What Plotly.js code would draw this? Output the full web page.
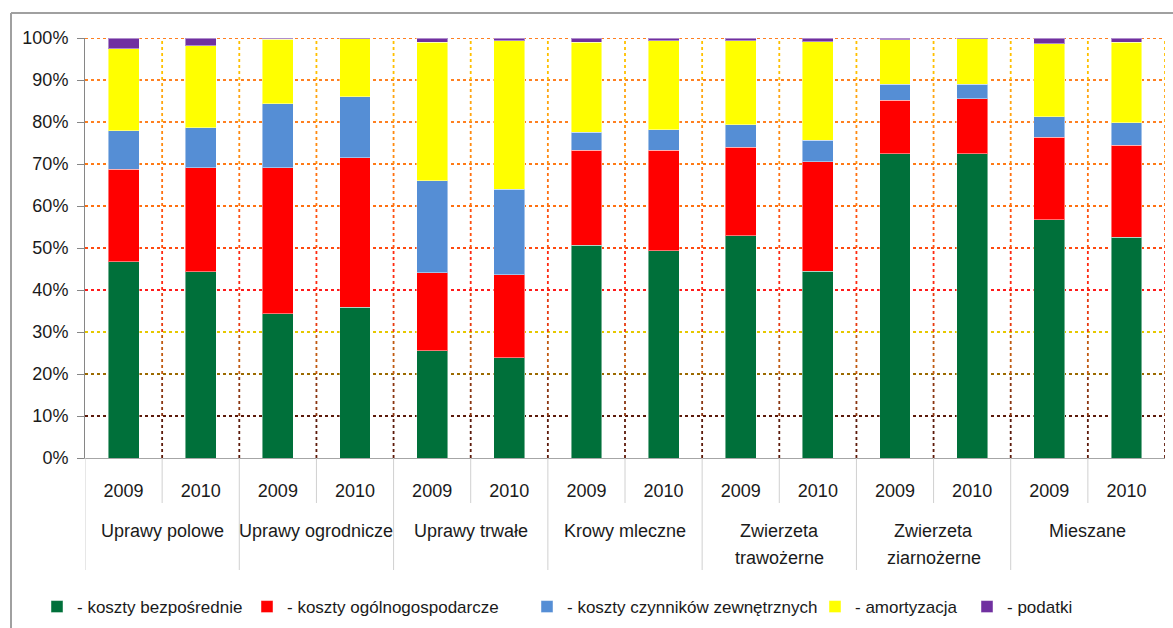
<!DOCTYPE html>
<html>
<head>
<meta charset="utf-8">
<script src="https://cdn.plot.ly/plotly-3.0.1.min.js"></script>
<style>html,body{margin:0;padding:0;background:#fff;}#chart{width:1173px;height:628px;}</style>
</head>
<body>
<div id="chart"></div>
<script>
// ---- data ----
const groups = ["Uprawy polowe", "Uprawy ogrodnicze", "Uprawy trwałe", "Krowy mleczne", "Zwierzeta<br>trawożerne", "Zwierzeta<br>ziarnożerne", "Mieszane"];
const years = ["2009", "2010"];
const seriesNames = ["- koszty bezpośrednie", "- koszty ogólnogospodarcze", "- koszty czynników zewnętrznych", "- amortyzacja", "- podatki"];
const bezposrednie   = [46.7, 44.4, 34.4, 35.9, 25.5, 23.9, 50.7, 49.3, 52.9, 44.5, 72.5, 72.5, 56.7, 52.6];
const ogolnogosp     = [22.1, 24.7, 34.7, 35.6, 18.6, 19.7, 22.6, 24.0, 21.1, 26.0, 12.7, 13.0, 19.7, 21.9];
const czynnikow      = [ 9.1,  9.5, 15.2, 14.5, 21.9, 20.4,  4.3,  4.8,  5.3,  5.2,  3.8,  3.5,  4.8,  5.3];
const amortyzacja    = [19.5, 19.5, 15.4, 13.8, 33.0, 35.4, 21.4, 21.3, 20.0, 23.4, 10.6, 10.8, 17.4, 19.2];
const podatki        = [ 2.6,  1.9,  0.3,  0.2,  1.0,  0.6,  1.0,  0.6,  0.7,  0.9,  0.4,  0.2,  1.4,  1.0];
const yTicks = [0, 10, 20, 30, 40, 50, 60, 70, 80, 90, 100];

// ---- styles ----
const colors = ["#00703A", "#FF0000", "#558ED5", "#FFFF00", "#7030A0"];
const hGridColors = ["#000000", "#5c1a0a", "#9c6a00", "#e6c800", "#ff1a1a", "#ff4a10", "#ff7010", "#ff7a15", "#ff8020", "#ff8020", "#ff8020"];
const vSegColors = ["#5c1a0a", "#8a3510", "#c05a10", "#e83a10", "#ff2a10", "#ff5010", "#ff7010", "#ff8a10", "#ffa510", "#ffc000"];
const FONT = "Liberation Sans, Arial, sans-serif";
const legendPx = [37, 247, 527, 815, 967];

const xs = [];
const ticktext = [];
for (let g = 0; g < groups.length; g++) {
  for (let k = 0; k < years.length; k++) { xs.push(g * years.length + k); ticktext.push(years[k]); }
}
const allSeries = [bezposrednie, ogolnogosp, czynnikow, amortyzacja, podatki];
const legendIds = ["legend", "legend2", "legend3", "legend4", "legend5"];
const traces = allSeries.map((vals, i) => ({
  type: "bar",
  name: seriesNames[i],
  x: xs,
  y: vals,
  legend: legendIds[i],
  marker: {color: colors[i], line: {color: "rgba(255,255,255,0.45)", width: 1}},
  hoverinfo: "name+y"
}));

const n = xs.length;
const shapes = [];
// horizontal gridlines
yTicks.forEach((v, i) => {
  if (v === 0) return;
  shapes.push({type: "line", layer: "below", xref: "paper", yref: "y", x0: 0, x1: 1, y0: v, y1: v,
    line: {color: hGridColors[i], width: 1.8, dash: "dot"}});
});
// vertical gridlines (segments with gradient colours)
for (let b = 0; b < n; b++) {
  const xv = b + 0.5;
  for (let s = 0; s < 10; s++) {
    shapes.push({type: "line", layer: "below", xref: "x", yref: "y", x0: xv, x1: xv, y0: s * 10, y1: s * 10 + 10,
      line: {color: vSegColors[s], width: 1.8, dash: "dot"}});
  }
}
// category separators below axis
for (let b = 0; b < n; b++) {
  const xv = b - 0.5;
  const isGroup = (b % years.length === 0);
  shapes.push({type: "line", xref: "x", yref: "paper", x0: xv, x1: xv, y0: 0, y1: isGroup ? (458 - 570) / 420 : (458 - 503) / 420,
    line: {color: "#d0d0d0", width: 1}});
}
// outer frame
shapes.push({type: "line", xref: "paper", yref: "paper", x0: (11 - 85) / 1080, x1: (1180 - 85) / 1080, y0: (458 - 13) / 420, y1: (458 - 13) / 420, line: {color: "#a0a0a0", width: 2}});
shapes.push({type: "line", xref: "paper", yref: "paper", x0: (11 - 85) / 1080, x1: (11 - 85) / 1080, y0: (458 - 13) / 420, y1: (458 - 640) / 420, line: {color: "#a0a0a0", width: 2}});

// group labels
const annotations = [];
groups.forEach((g, gi) => {
  const lines = g.split("<br>");
  lines.forEach((ln, li) => {
    annotations.push({xref: "x", yref: "paper", x: gi * years.length + 0.5, y: (458 - (531 + li * 27)) / 420,
      text: ln, showarrow: false, xanchor: "center", yanchor: "middle",
      font: {family: FONT, size: 18, color: "#1a1a1a"}});
  });
});

const layout = {
  width: 1173, height: 628,
  margin: {l: 85, r: 8, t: 38, b: 170, autoexpand: false},
  paper_bgcolor: "#ffffff", plot_bgcolor: "#ffffff",
  barmode: "stack", bargap: 0.6,
  font: {family: FONT, size: 18, color: "#1a1a1a"},
  xaxis: {
    range: [-0.5, n - 0.5], tickmode: "array", tickvals: xs, ticktext: ticktext, automargin: false,
    showgrid: false, zeroline: false, showline: true, linecolor: "#a6a6a6", linewidth: 1,
    ticks: "", ticklabelstandoff: 16, tickfont: {family: FONT, size: 18, color: "#1a1a1a"}, fixedrange: true
  },
  yaxis: {
    range: [0, 100], tickmode: "array", tickvals: yTicks, ticktext: yTicks.map(v => v + "%"), automargin: false,
    showgrid: false, zeroline: false, showline: true, linecolor: "#868686", linewidth: 1,
    ticks: "outside", ticklen: 7, tickcolor: "#868686", tickwidth: 1, ticklabelstandoff: 5,
    tickfont: {family: FONT, size: 18, color: "#1a1a1a"}, fixedrange: true
  },
  shapes: shapes,
  annotations: annotations,
  showlegend: true
};
legendIds.forEach((id, i) => {
  layout[id] = {
    orientation: "h", x: (legendPx[i] - 85) / 1080, xanchor: "left", y: (458 - 607) / 420, yanchor: "middle",
    font: {family: FONT, size: 17, color: "#1a1a1a"}, bgcolor: "rgba(0,0,0,0)"
  };
});

Plotly.newPlot("chart", traces, layout, {displayModeBar: false});
</script>
</body>
</html>
